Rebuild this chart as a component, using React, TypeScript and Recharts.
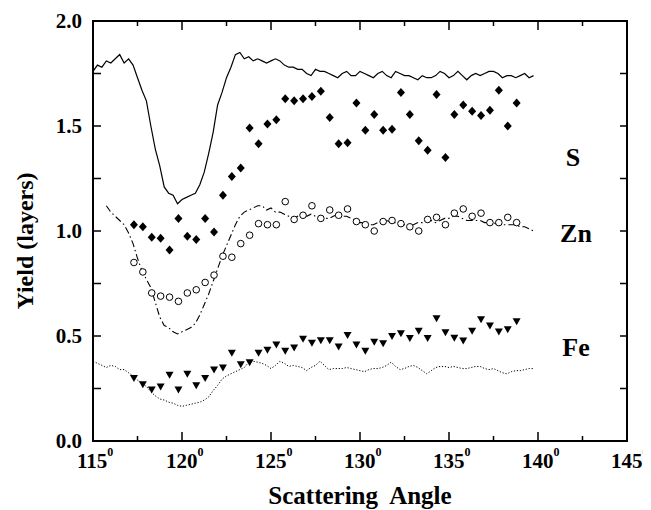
import React from "react";
import { ComposedChart, Line, XAxis, YAxis, Customized } from "recharts";

// angle grid of the three continuous curves (degrees)
const lineAngles = [
  115, 115.25, 115.5, 115.75, 116, 116.25, 116.5, 116.75, 117, 117.25,
  117.5, 117.75, 118, 118.25, 118.5, 118.75, 119, 119.25, 119.5, 119.75,
  120, 120.25, 120.5, 120.75, 121, 121.25, 121.5, 121.75, 122, 122.25,
  122.5, 122.75, 123, 123.25, 123.5, 123.75, 124, 124.25, 124.5, 124.75,
  125, 125.25, 125.5, 125.75, 126, 126.25, 126.5, 126.75, 127, 127.25,
  127.5, 127.75, 128, 128.25, 128.5, 128.75, 129, 129.25, 129.5, 129.75,
  130, 130.25, 130.5, 130.75, 131, 131.25, 131.5, 131.75, 132, 132.25,
  132.5, 132.75, 133, 133.25, 133.5, 133.75, 134, 134.25, 134.5, 134.75,
  135, 135.25, 135.5, 135.75, 136, 136.25, 136.5, 136.75, 137, 137.25,
  137.5, 137.75, 138, 138.25, 138.5, 138.75, 139, 139.25, 139.5, 139.75,
];

const sLineYield = [
  1.76, 1.79, 1.78, 1.81, 1.8, 1.82, 1.84, 1.8, 1.82, 1.79,
  1.73, 1.67, 1.62, 1.5, 1.39, 1.31, 1.21, 1.18, 1.17, 1.13,
  1.15, 1.16, 1.17, 1.18, 1.22, 1.28, 1.37, 1.47, 1.6, 1.66,
  1.73, 1.78, 1.84, 1.85, 1.82, 1.83, 1.81, 1.82, 1.81, 1.8,
  1.81, 1.82, 1.81, 1.79, 1.78, 1.78, 1.77, 1.77, 1.75, 1.74,
  1.77, 1.76, 1.76, 1.75, 1.74, 1.73, 1.75, 1.76, 1.74, 1.74,
  1.76, 1.75, 1.74, 1.73, 1.75, 1.76, 1.74, 1.73, 1.76, 1.75,
  1.74, 1.74, 1.73, 1.72, 1.74, 1.73, 1.73, 1.74, 1.76, 1.75,
  1.73, 1.74, 1.76, 1.74, 1.72, 1.74, 1.75, 1.74, 1.75, 1.76,
  1.76, 1.75, 1.73, 1.74, 1.74, 1.73, 1.74, 1.75, 1.73, 1.74,
];

// Zn curve has no values before 115.75
const znLineYield = [
  null, null, null,
  1.12, 1.09, 1.07, 1.05, 1.03, 0.99, 0.94, 0.87, 0.81, 0.77,
  0.73, 0.66, 0.59, 0.55, 0.54, 0.52, 0.51, 0.52, 0.53, 0.54,
  0.56, 0.6, 0.65, 0.7, 0.76, 0.82, 0.88, 0.93, 0.98, 1.03,
  1.07, 1.09, 1.1, 1.11, 1.12, 1.12, 1.1, 1.11, 1.09, 1.09,
  1.08, 1.07, 1.06, 1.07, 1.08, 1.07, 1.08, 1.07, 1.05, 1.06,
  1.06, 1.07, 1.08, 1.07, 1.07, 1.06, 1.05, 1.04, 1.04, 1.03,
  1.03, 1.04, 1.04, 1.05, 1.04, 1.04, 1.04, 1.03, 1.02, 1.03,
  1.04, 1.04, 1.05, 1.05, 1.04, 1.05, 1.06, 1.06, 1.07, 1.07,
  1.06, 1.05, 1.05, 1.05, 1.05, 1.04, 1.04, 1.04, 1.03, 1.03,
  1.03, 1.03, 1.03, 1.02, 1.02, 1.01, 1.0,
];

const feLineYield = [
  0.38, 0.37, 0.36, 0.35, 0.36, 0.355, 0.34, 0.34, 0.325, 0.31,
  0.29, 0.275, 0.26, 0.235, 0.215, 0.2, 0.195, 0.185, 0.18, 0.17,
  0.165, 0.17, 0.175, 0.18, 0.185, 0.195, 0.21, 0.24, 0.265, 0.295,
  0.31, 0.32, 0.33, 0.34, 0.35, 0.375, 0.38, 0.375, 0.37, 0.36,
  0.345, 0.36, 0.38, 0.37, 0.355, 0.36, 0.355, 0.35, 0.335, 0.35,
  0.36, 0.38, 0.36, 0.34, 0.345, 0.345, 0.345, 0.35, 0.345, 0.34,
  0.335, 0.33, 0.34, 0.345, 0.345, 0.35, 0.36, 0.375, 0.355, 0.34,
  0.345, 0.355, 0.36, 0.35, 0.335, 0.32, 0.335, 0.35, 0.355, 0.355,
  0.35, 0.355, 0.35, 0.345, 0.345, 0.35, 0.355, 0.355, 0.345, 0.34,
  0.345, 0.335, 0.325, 0.32, 0.33, 0.335, 0.335, 0.34, 0.345, 0.345,
];

// measured points
const pointAngles = [
  117.3, 117.8, 118.3, 118.8, 119.3, 119.8, 120.3, 120.8, 121.3, 121.8,
  122.3, 122.8, 123.3, 123.8, 124.3, 124.8, 125.3, 125.8, 126.3, 126.8,
  127.3, 127.8, 128.3, 128.8, 129.3, 129.8, 130.3, 130.8, 131.3, 131.8,
  132.3, 132.8, 133.3, 133.8, 134.3, 134.8, 135.3, 135.8, 136.3, 136.8,
  137.3, 137.8, 138.3, 138.8,
];

const sPoints = [
  1.03, 1.02, 0.97, 0.965, 0.91, 1.06, 0.975, 0.96, 1.06, 0.995,
  1.17, 1.26, 1.3, 1.49, 1.415, 1.51, 1.53, 1.63, 1.62, 1.63,
  1.64, 1.665, 1.54, 1.415, 1.42, 1.61, 1.48, 1.555, 1.48, 1.485,
  1.66, 1.555, 1.43, 1.385, 1.65, 1.35, 1.555, 1.6, 1.57, 1.55,
  1.575, 1.67, 1.5, 1.61,
];

const znPoints = [
  0.85, 0.805, 0.705, 0.69, 0.685, 0.665, 0.705, 0.72, 0.755, 0.79,
  0.88, 0.875, 0.94, 0.98, 1.035, 1.03, 1.03, 1.14, 1.055, 1.075,
  1.12, 1.06, 1.1, 1.075, 1.105, 1.045, 1.03, 1.0, 1.045, 1.05,
  1.035, 1.02, 1.0, 1.055, 1.065, 1.03, 1.085, 1.105, 1.07, 1.085,
  1.04, 1.04, 1.065, 1.04,
];

const fePoints = [
  0.3, 0.27, 0.245, 0.26, 0.315, 0.245, 0.32, 0.265, 0.3, 0.34,
  0.35, 0.42, 0.365, 0.375, 0.42, 0.435, 0.46, 0.43, 0.445, 0.487,
  0.468, 0.48, 0.48, 0.45, 0.505, 0.46, 0.43, 0.473, 0.465, 0.5,
  0.513, 0.49, 0.525, 0.49, 0.585, 0.518, 0.492, 0.478, 0.525, 0.58,
  0.55, 0.522, 0.532, 0.57,
];

const xTicks = [115, 117.5, 120, 122.5, 125, 127.5, 130, 132.5, 135, 137.5, 140, 142.5, 145];
const yTicks = [0, 0.25, 0.5, 0.75, 1, 1.25, 1.5, 1.75, 2];

// one table for the chart: curve rows and point rows merged by angle
type Row = { x: number; s?: number; zn?: number | null; fe?: number; sPt?: number; znPt?: number; fePt?: number };
const rows: Row[] = [
  ...lineAngles.map((x, i) => ({ x, s: sLineYield[i], zn: znLineYield[i], fe: feLineYield[i] })),
  ...pointAngles.map((x, i) => ({ x, sPt: sPoints[i], znPt: znPoints[i], fePt: fePoints[i] })),
].sort((a, b) => a.x - b.x);

const FONT = "Liberation Serif";

// plot box (svg px) fixed by the margins and axis sizes below
const BOX = { left: 85, top: 13, right: 619, bottom: 433 };
const pxX = (v: number) => BOX.left + ((v - 115) / 30) * (BOX.right - BOX.left);
const pxY = (v: number) => BOX.bottom - (v / 2) * (BOX.bottom - BOX.top);

const BottomTick = (props: any) => {
  const { x, y, payload } = props;
  if (payload.value % 5 !== 0) return null;
  return (
    <text x={x - 16} y={y + 27} fontFamily={FONT} fontWeight="bold" fontSize={21} fill="#000">
      {payload.value}
      <tspan fontSize={12} dy={-12}>0</tspan>
    </text>
  );
};

const LeftTick = (props: any) => {
  const { x, y, payload } = props;
  if ((payload.value * 2) % 1 !== 0) return null;
  return (
    <text x={x - 11} y={y + 7} textAnchor="end" fontFamily={FONT} fontWeight="bold" fontSize={21} fill="#000">
      {payload.value.toFixed(1)}
    </text>
  );
};

const Diamond = (props: any) => {
  const { cx, cy } = props;
  if (cx == null || cy == null) return null;
  return <polygon points={`${cx},${cy - 4.5} ${cx + 4},${cy} ${cx},${cy + 4.5} ${cx - 4},${cy}`} fill="#000" />;
};

const OpenCircle = (props: any) => {
  const { cx, cy } = props;
  if (cx == null || cy == null) return null;
  return <circle cx={cx} cy={cy} r={3.3} fill="#fff" stroke="#000" strokeWidth={1} />;
};

const DownTriangle = (props: any) => {
  const { cx, cy } = props;
  if (cx == null || cy == null) return null;
  return <polygon points={`${cx - 4},${cy - 3} ${cx + 4},${cy - 3} ${cx},${cy + 4}`} fill="#000" />;
};

// frame with inward ticks on all four sides, drawn as one filled outline each
const Frame = () => {
  let d = "";
  xTicks.forEach((t) => {
    const len = t % 5 === 0 ? 9 : 5;
    const x = pxX(t);
    d += `M${x},${BOX.bottom}V${BOX.bottom - len}M${x},${BOX.top}V${BOX.top + len}`;
  });
  yTicks.forEach((v) => {
    const y = pxY(v);
    d += `M${BOX.left},${y}H${BOX.left + 8}M${BOX.right},${y}H${BOX.right - 7}`;
  });
  return (
    <g>
      <rect
        x={BOX.left}
        y={BOX.top}
        width={BOX.right - BOX.left}
        height={BOX.bottom - BOX.top}
        fill="none"
        stroke="#000"
        strokeWidth={2}
      />
      <path d={d} fill="none" stroke="#000" strokeWidth={1.5} />
    </g>
  );
};

const Labels = () => (
  <g>
    <text x={565} y={158} fontSize={26} textAnchor="middle" fontFamily={FONT} fontWeight="bold">S</text>
    <text x={568} y={234} fontSize={26} textAnchor="middle" fontFamily={FONT} fontWeight="bold">Zn</text>
    <text x={568} y={348} fontSize={26} textAnchor="middle" fontFamily={FONT} fontWeight="bold">Fe</text>
    <text x={352} y={496} fontSize={25} textAnchor="middle" fontFamily={FONT} fontWeight="bold">
      Scattering{"\u00a0 "}Angle
    </text>
    <text x={0} y={0} fontSize={24} textAnchor="middle" fontFamily={FONT} fontWeight="bold" transform="translate(25,233) rotate(-90)">
      Yield (layers)
    </text>
  </g>
);

export default function App() {
  return (
    <div style={{ position: "relative", width: 643, height: 502 }}>
      <ComposedChart width={643} height={502} data={rows} margin={{ top: 13, right: 24, bottom: 0, left: 0 }}>
        <XAxis
          dataKey="x"
          type="number"
          domain={[115, 145]}
          ticks={xTicks}
          interval={0}
          height={69}
          tickSize={0}
          tickMargin={0}
          tick={<BottomTick />}
          axisLine={false}
          tickLine={false}
        />
        <YAxis
          type="number"
          domain={[0, 2]}
          ticks={yTicks}
          interval={0}
          width={85}
          tickSize={0}
          tickMargin={0}
          tick={<LeftTick />}
          axisLine={false}
          tickLine={false}
        />
        <Customized component={Frame} />
        <Line dataKey="s" type="linear" stroke="#000" strokeWidth={1.2} dot={false} connectNulls isAnimationActive={false} />
        <Line
          dataKey="zn"
          type="linear"
          stroke="#000"
          strokeWidth={1.1}
          strokeDasharray="7 3 1.5 3"
          dot={false}
          connectNulls
          isAnimationActive={false}
        />
        <Line
          dataKey="fe"
          type="linear"
          stroke="#000"
          strokeWidth={1}
          strokeDasharray="1.2 1.8"
          dot={false}
          connectNulls
          isAnimationActive={false}
        />
        <Line dataKey="sPt" stroke="none" dot={<Diamond />} activeDot={false} isAnimationActive={false} />
        <Line dataKey="znPt" stroke="none" dot={<OpenCircle />} activeDot={false} isAnimationActive={false} />
        <Line dataKey="fePt" stroke="none" dot={<DownTriangle />} activeDot={false} isAnimationActive={false} />
        <Customized component={Labels} />
      </ComposedChart>
      {/* plot border as a plain HTML box, in case the svg frame is not painted */}
      <div
        style={{
          position: "absolute",
          left: BOX.left - 1,
          top: BOX.top - 1,
          width: BOX.right - BOX.left + 2,
          height: BOX.bottom - BOX.top + 2,
          border: "2px solid #000",
          boxSizing: "border-box",
          pointerEvents: "none",
        }}
      />
    </div>
  );
}
